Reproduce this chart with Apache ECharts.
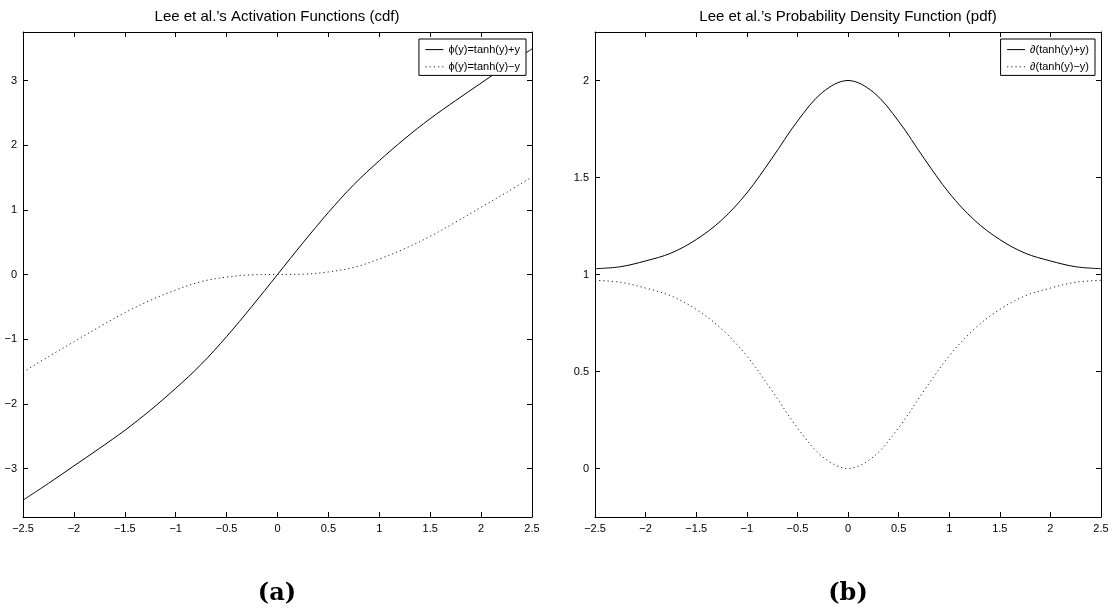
<!DOCTYPE html>
<html>
<head>
<meta charset="utf-8">
<script src="https://cdn.jsdelivr.net/npm/echarts@6.0.0/dist/echarts.min.js"></script>
<style>
  html, body { margin: 0; padding: 0; background: #fff; }
  #main { width: 1116px; height: 614px; }
</style>
</head>
<body>
<div id="main"></div>
<script>
// x positions read along the axis (step 0.25)
var ys = [-2.5, -2.25, -2, -1.75, -1.5, -1.25, -1, -0.75, -0.5, -0.25, 0,
          0.25, 0.5, 0.75, 1, 1.25, 1.5, 1.75, 2, 2.25, 2.5];

// (a) cdf curves
var cdfPlus  = [-3.49, -3.23, -2.96, -2.69, -2.41, -2.10, -1.76, -1.39, -0.96, -0.49, 0,
                0.49, 0.96, 1.39, 1.76, 2.10, 2.41, 2.69, 2.96, 3.23, 3.49];
var cdfMinus = [-1.51, -1.27, -1.04, -0.81, -0.59, -0.40, -0.24, -0.11, -0.04, -0.005, 0,
                0.005, 0.04, 0.11, 0.24, 0.40, 0.59, 0.81, 1.04, 1.27, 1.51];

// (b) pdf curves
var pdfPlus  = [1.03, 1.04, 1.07, 1.11, 1.18, 1.28, 1.42, 1.60, 1.79, 1.94, 2.00,
                1.94, 1.79, 1.60, 1.42, 1.28, 1.18, 1.11, 1.07, 1.04, 1.03];
var pdfMinus = [0.97, 0.96, 0.93, 0.89, 0.82, 0.72, 0.58, 0.40, 0.21, 0.06, 0,
                0.06, 0.21, 0.40, 0.58, 0.72, 0.82, 0.89, 0.93, 0.96, 0.97];

var xTicks = [-2.5, -2, -1.5, -1, -0.5, 0, 0.5, 1, 1.5, 2, 2.5];
var yTicksA = [-3, -2, -1, 0, 1, 2, 3];
var yTicksB = [0, 0.5, 1, 1.5, 2];

var names = ['ϕ(y)=tanh(y)+y', 'ϕ(y)=tanh(y)−y', '∂(tanh(y)+y)', '∂(tanh(y)−y)'];

function pairs(xv, yv) {
    return xv.map(function (x, i) { return [x, yv[i]]; });
}
function fmt(v) { return String(v).replace('-', '\u2212'); }

var font = 'Liberation Sans, Arial, DejaVu Sans, sans-serif';
var black = '#000';

// one box axis (ticks inside, optional labels)
function xAx(grid, pos, labels) {
    return {
        type: 'value', gridIndex: grid, position: pos, min: -2.5, max: 2.5,
        axisLine: { show: true, onZero: false, lineStyle: { color: black, width: 1 } },
        axisTick: { show: true, inside: true, length: 5, customValues: xTicks,
                    lineStyle: { color: black } },
        axisLabel: { show: labels, customValues: xTicks, formatter: fmt, margin: 6,
                     color: black, fontSize: 11, fontFamily: font },
        splitLine: { show: false }
    };
}
function yAx(grid, pos, labels, lo, hi, ticks) {
    return {
        type: 'value', gridIndex: grid, position: pos, min: lo, max: hi,
        axisLine: { show: true, onZero: false, lineStyle: { color: black, width: 1 } },
        axisTick: { show: true, inside: true, length: 5, customValues: ticks,
                    lineStyle: { color: black } },
        axisLabel: { show: labels, customValues: ticks, formatter: fmt, margin: 6,
                     color: black, fontSize: 11, fontFamily: font },
        splitLine: { show: false }
    };
}

function lineSeries(name, xi, yi, data, dotted) {
    return {
        name: name, type: 'line', xAxisIndex: xi, yAxisIndex: yi,
        data: data, smooth: 0.35, symbol: 'none', silent: true,
        color: black,
        lineStyle: dotted ? { color: '#222', width: 1, type: [1.2, 3] }
                          : { color: black, width: 1 }
    };
}

function legendBox(data, right) {
    return {
        data: data, orient: 'vertical', right: right, top: 39,
        backgroundColor: '#fff', borderColor: black, borderWidth: 1,
        padding: [5, 6, 3, 6], itemGap: 6, itemWidth: 18, itemHeight: 14,
        itemStyle: { opacity: 0 },
        lineStyle: { width: 1 },
        textStyle: { fontSize: 11, fontFamily: font, color: black },
        selectedMode: false
    };
}

var chart = echarts.init(document.getElementById('main'));
chart.setOption({
    backgroundColor: '#fff',
    animation: false,
    grid: [
        { left: 23, right: 584, top: 32, bottom: 97 },
        { left: 595, right: 15, top: 32, bottom: 97 }
    ],
    xAxis: [xAx(0, 'bottom', true), xAx(0, 'top', false),
            xAx(1, 'bottom', true), xAx(1, 'top', false)],
    yAxis: [yAx(0, 'left', true, -3.75, 3.75, yTicksA), yAx(0, 'right', false, -3.75, 3.75, yTicksA),
            yAx(1, 'left', true, -0.25, 2.25, yTicksB), yAx(1, 'right', false, -0.25, 2.25, yTicksB)],
    legend: [legendBox([names[0], names[1]], 590), legendBox([names[2], names[3]], 21)],
    series: [
        lineSeries(names[0], 0, 0, pairs(ys, cdfPlus), false),
        lineSeries(names[1], 0, 0, pairs(ys, cdfMinus), true),
        lineSeries(names[2], 2, 2, pairs(ys, pdfPlus), false),
        lineSeries(names[3], 2, 2, pairs(ys, pdfMinus), true)
    ],
    graphic: [
        { type: 'text', x: 277, y: 17, style: { text: 'Lee et al.\u2019s Activation Functions (cdf)',
          font: '15px ' + font, fill: black, textAlign: 'center', textVerticalAlign: 'middle' } },
        { type: 'text', x: 848, y: 17, style: { text: 'Lee et al.\u2019s Probability Density Function (pdf)',
          font: '15px ' + font, fill: black, textAlign: 'center', textVerticalAlign: 'middle' } },
        { type: 'text', x: 277, y: 594, style: { text: '(a)',
          font: 'bold 24px "DejaVu Serif", serif', fill: black, textAlign: 'center', textVerticalAlign: 'middle' } },
        { type: 'text', x: 848, y: 594, style: { text: '(b)',
          font: 'bold 24px "DejaVu Serif", serif', fill: black, textAlign: 'center', textVerticalAlign: 'middle' } }
    ]
});
</script>
</body>
</html>
